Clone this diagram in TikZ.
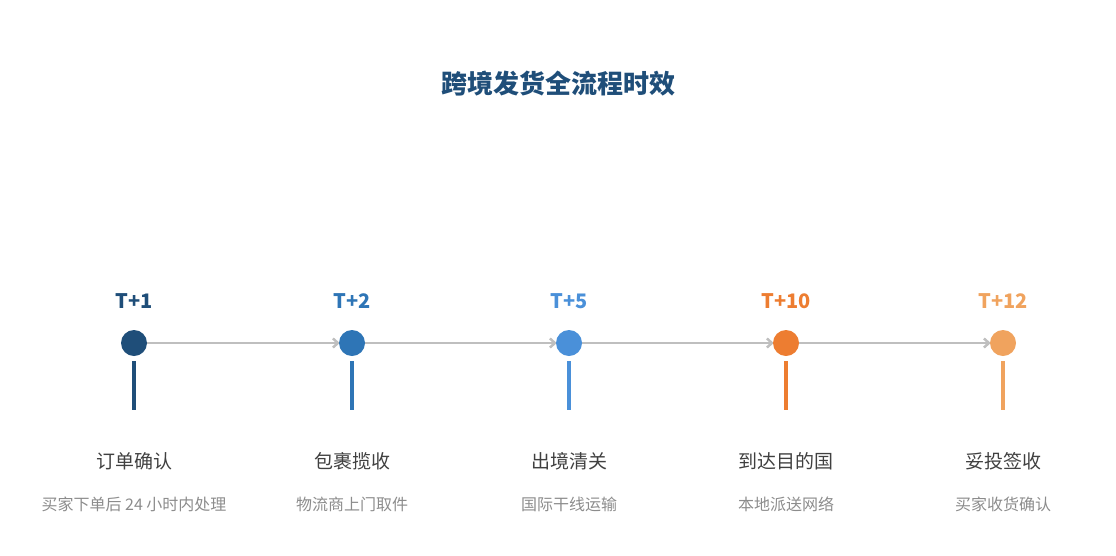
\documentclass[tikz,border=0pt]{standalone}
\usepackage{fontspec}
\setmainfont{Noto Sans CJK SC}
\usetikzlibrary{arrows.meta,backgrounds}
\definecolor{c1}{HTML}{1F4E79}
\definecolor{c2}{HTML}{2E75B6}
\definecolor{c3}{HTML}{4A90D9}
\definecolor{c4}{HTML}{ED7D31}
\definecolor{c5}{HTML}{F0A35E}
\definecolor{linegray}{HTML}{BFBFBF}
\definecolor{txt}{HTML}{404040}
\definecolor{subtxt}{HTML}{8C8C8C}
\tikzset{
  dot/.style={circle, fill=#1, inner sep=0pt, minimum size=26pt},
  stamp/.style={font=\fontsize{20}{24}\selectfont\bfseries, text=#1},
  stage/.style={font=\fontsize{19}{22}\selectfont, text=txt},
  note/.style={font=\fontsize{16}{19}\selectfont, text=subtxt},
  flow/.style={draw=linegray, line width=2.5pt, -{Straight Barb[length=5pt,width=9pt]}}
}
\begin{document}
\begin{tikzpicture}[x=1pt, y=-1pt]
  \useasboundingbox (0,0) rectangle (1116,555);
  \node[font=\fontsize{26}{30}\selectfont\bfseries, text=c1] (title) at (558,84) {跨境发货全流程时效};
  \foreach \i/\x/\col/\t/\a/\b in {
      1/134/c1/T+1/订单确认/买家下单后 24 小时内处理,
      2/352/c2/T+2/包裹揽收/物流商上门取件,
      3/569/c3/T+5/出境清关/国际干线运输,
      4/786/c4/T+10/到达目的国/本地派送网络,
      5/1003/c5/T+12/妥投签收/买家收货确认} {
    \node[dot=\col] (dot\i) at (\x,343) {};
    \node[stamp=\col] (time\i) at (\x,301) {\t};
    \coordinate (top\i) at (\x,361);
    \coordinate (bot\i) at (\x,410);
    \draw[\col, line width=3.5pt] (top\i) -- (bot\i);
    \node[stage] (stage\i) at (\x,461) {\a};
    \node[note] (note\i) at (\x,504) {\b};
  }
  \begin{pgfonlayer}{background}
  \foreach \i/\j in {1/2,2/3,3/4,4/5}
    \draw[flow] (dot\i.east) -- ([xshift=1pt]dot\j.west);
  \end{pgfonlayer}
\end{tikzpicture}
\end{document}
